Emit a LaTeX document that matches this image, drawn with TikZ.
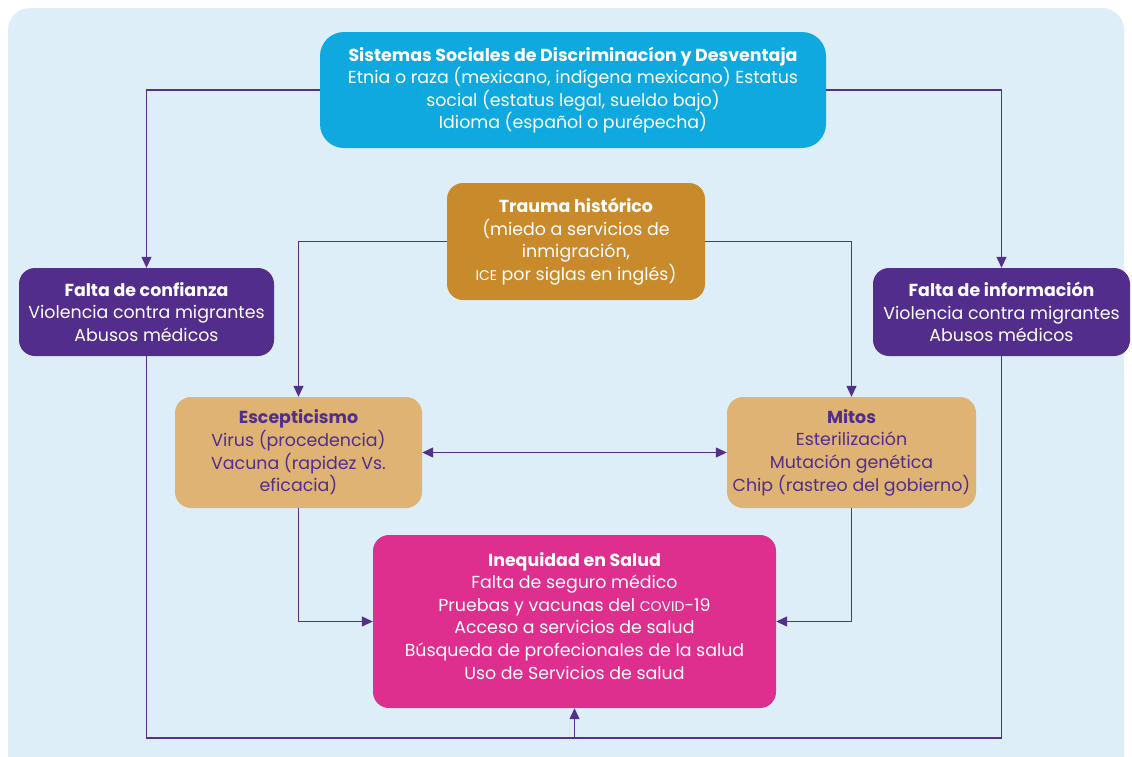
\documentclass[tikz,border=0pt]{standalone}
\usepackage{fontspec}
\setmainfont{Poppins}
\usepackage{tikz}
\usetikzlibrary{arrows.meta}
\definecolor{bgblue}{HTML}{DEEEF8}
\definecolor{sisblue}{HTML}{0FA9E0}
\definecolor{ochre}{HTML}{C88A2A}
\definecolor{violet}{HTML}{522D8C}
\definecolor{tan}{HTML}{DEB374}
\definecolor{magenta}{HTML}{DE2F8E}
\definecolor{lnviolet}{HTML}{52308C}
\newcommand\smallcap[1]{{\fontsize{14}{22.5}\selectfont #1}}

\begin{document}
\begin{tikzpicture}
	[x=1pt,y=-1pt,
	b/.style={font=\fontsize{17.4}{22.6}\selectfont,rounded corners=16pt,align=center,inner sep=0pt,text=white},
	ln/.style={draw=lnviolet,line width=1.3pt},
	ar/.style={ln,-{Triangle[length=11pt,width=10pt]}}]

	\useasboundingbox (0,0) rectangle (1132,756);
	\fill[white] (0,0) rectangle (1132,756);
	\fill[bgblue,rounded corners=22pt] (8,8) rectangle (1124,790);

	\node[b,fill=sisblue,rounded corners=24pt,minimum width=506pt,minimum height=116pt] (sis) at (573,90)
		{\textbf{Sistemas Sociales de Discriminacíon y Desventaja}\\Etnia o raza (mexicano, indígena mexicano) Estatus\\social (estatus legal, sueldo bajo)\\Idioma (español o purépecha)};

	\node[b,fill=ochre,minimum width=258pt,minimum height=117pt] (trauma) at (576,241.5)
		{\textbf{Trauma histórico}\\(miedo a servicios de\\inmigración,\\\smallcap{ICE} por siglas en inglés)};

	\node[b,fill=violet,minimum width=255pt,minimum height=88pt] (conf) at (146.5,312)
		{\textbf{Falta de confianza}\\Violencia contra migrantes\\Abusos médicos};

	\node[b,fill=violet,minimum width=257pt,minimum height=88pt] (info) at (1001.5,312)
		{\textbf{Falta de información}\\Violencia contra migrantes\\Abusos médicos};

	\node[b,fill=tan,text=violet,minimum width=247pt,minimum height=111pt] (esc) at (298.5,452.5)
		{\textbf{Escepticismo}\\Virus (procedencia)\\Vacuna (rapidez Vs.\\eficacia)};

	\node[b,fill=tan,text=violet,minimum width=249pt,minimum height=111pt] (mitos) at (851.5,452.5)
		{\textbf{Mitos}\\Esterilización\\Mutación genética\\Chip (rastreo del gobierno)};

	\node[b,fill=magenta,minimum width=403pt,minimum height=173pt] (ineq) at (574.5,621.5)
		{\textbf{Inequidad en Salud}\\Falta de seguro médico\\Pruebas y vacunas del \smallcap{COVID}-19\\Acceso a servicios de salud\\Búsqueda de profecionales de la salud\\Uso de Servicios de salud\\[-11pt]\mbox{}};

	\coordinate (loopl) at (conf.south |- 0,738);
	\coordinate (loopr) at (info.south |- 0,738);
	\coordinate (loopm) at (ineq.south |- 0,738);

	\draw[ar] (sis.west) -| (conf.north);
	\draw[ar] (sis.east) -| (info.north);
	\draw[ar] (trauma.west) -| (esc.north);
	\draw[ar] (trauma.east) -| (mitos.north);
	\draw[ln,{Triangle[length=11pt,width=10pt]}-{Triangle[length=11pt,width=10pt]}] (esc.east) -- (mitos.west);
	\draw[ar] (esc.south) |- (ineq.west);
	\draw[ar] (mitos.south) |- (ineq.east);
	\draw[ln] (conf.south) -- (loopl) -- (loopr) -- (info.south);
	\draw[ar] (loopm) -- (ineq.south);

\end{tikzpicture}
\end{document}
